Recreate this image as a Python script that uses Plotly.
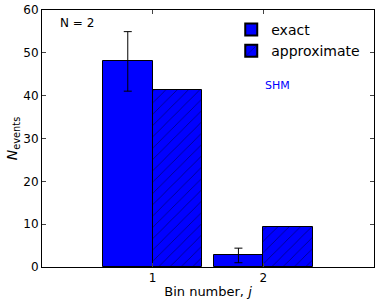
import plotly.graph_objects as go

# Data
bins = [1, 2]
exact = [48.0, 2.7]
exact_err = [6.95, 1.7]
approximate = [41.4, 9.4]

w = 0.45
x_exact = [b - w / 2 for b in bins]
x_approx = [b + w / 2 for b in bins]

fig = go.Figure()
fig.add_trace(go.Bar(
    x=x_exact, y=exact, width=w, name="exact",
    marker=dict(color="#0000ff", line=dict(color="black", width=1)),
    error_y=dict(type="data", array=exact_err, color="black", thickness=1, width=4),
))
fig.add_trace(go.Bar(
    x=x_approx, y=approximate, width=w, name="approximate",
    marker=dict(color="#0000ff", line=dict(color="black", width=1),
                pattern=dict(shape="/", fgcolor="black", bgcolor="#0000ff",
                             size=8, solidity=0.1)),
))

fig.add_annotation(x=0.048, y=0.95, xref="paper", yref="paper", text="N = 2",
                   showarrow=False, xanchor="left", yanchor="middle",
                   font=dict(size=12, color="black"))
fig.add_annotation(x=0.665, y=0.705, xref="paper", yref="paper", text="SHM",
                   showarrow=False, xanchor="left", yanchor="middle",
                   font=dict(size=11, color="#0000ff"))

fig.update_layout(
    width=379, height=306,
    margin=dict(l=42, r=5, t=10, b=39),
    paper_bgcolor="white", plot_bgcolor="white",
    font=dict(family="DejaVu Sans", size=12, color="black"),
    barmode="overlay", bargap=0,
    showlegend=True,
    legend=dict(x=0.57, y=0.985, xanchor="left", yanchor="top",
                bgcolor="rgba(0,0,0,0)", font=dict(size=14),
                itemsizing="constant", tracegroupgap=0),
)
fig.update_xaxes(range=[0, 3], tickvals=bins, ticktext=[str(b) for b in bins],
                 ticks="inside", ticklen=4, mirror="allticks", showline=True,
                 linecolor="black", linewidth=1, showgrid=False, zeroline=False,
                 automargin=False,
                 title=dict(text="Bin number, <i>j</i>", standoff=2, font=dict(size=13)))
fig.update_yaxes(range=[0, 60], tickvals=[0, 10, 20, 30, 40, 50, 60],
                 ticks="inside", ticklen=4, mirror="allticks", showline=True,
                 linecolor="black", linewidth=1, showgrid=False, zeroline=False,
                 automargin=False,
                 title=dict(text="<i>N</i><sub>events</sub>", standoff=2, font=dict(size=14)))

fig.write_html("out.html", config={"displayModeBar": False},
               post_script="document.body.style.margin='0';")
